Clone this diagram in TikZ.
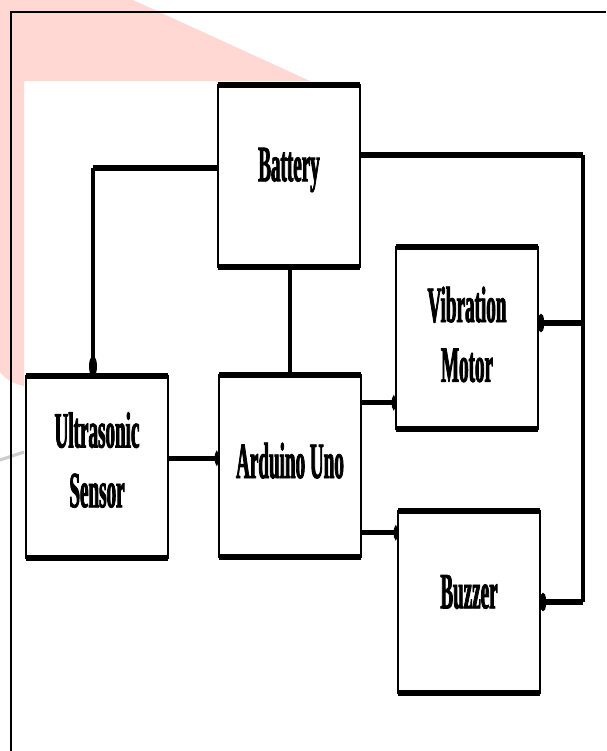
\documentclass[tikz,border=0pt]{standalone}
\usepackage{fontspec}
\newfontfamily\blockfont{Liberation Serif}[FakeStretch=0.375, BoldFeatures={FakeBold=1.5}]
\usetikzlibrary{arrows.meta}
\definecolor{wmpink}{RGB}{255,216,211}
\definecolor{wmgray}{RGB}{205,205,205}

\begin{document}
\begin{tikzpicture}[x=0.02cm, y=-0.02cm,
    block/.style={draw, line width=1.5pt, outer sep=0pt, inner sep=0pt,
        minimum width=2.84cm, minimum height=3.64cm},
    tag/.style={align=center, inner sep=0pt, yshift=#1,
        font=\blockfont\bfseries\fontsize{29}{34}\selectfont},
    edge/.style={line width=3.5pt},
    bus/.style={line width=3.8pt},
    riser/.style={line width=2.4pt},
    sig/.style={line width=2.8pt},
    wire/.style={line width=1.8pt},
    tipV/.style={-{Circle[length=11pt,width=4.5pt]}},
    tipR/.style={-{Circle[length=3.5pt,width=10pt]}},
    tipS/.style={-{Circle[length=2.5pt,width=7.5pt]}}]
    \useasboundingbox (0,0) rectangle (606,751);

    % watermark behind the page
    \fill[wmpink] (0,0) -- (133,0) -- (310,81) -- (24,81) -- (24,386)
        .. controls (14,384) and (5,379) .. (0,372) -- cycle;
    \draw[wmgray, line width=1.8pt] (0,460) -- (24,452);
    \draw[line width=1.1pt] (11,751) -- (11,12) -- (606,12);

    % blocks
    \node[block, label={[tag=3.4pt]center:Battery}] (bat) at (289,176) {};
    \node[block, label={[tag=4pt]center:Ultrasonic\\Sensor}] (us) at (97,467) {};
    \node[block, label={[tag=3pt]center:Arduino Uno}] (ard) at (290,466) {};
    \node[block, label={[tag=2pt]center:Vibration\\Motor}] (vm) at (467,338) {};
    \node[block, label={[tag=5.7pt]center:Buzzer}] (bz) at (469,602) {};
    \foreach \b in {bat,us,ard,vm,bz} {
        \draw[edge] (\b.north west) -- (\b.north east);
        \draw[edge] (\b.south west) -- (\b.south east);
    }

    % supply lines
    \coordinate (k1) at (93,168);
    \draw[bus] (bat.west |- k1) -- (k1);
    \draw[wire, tipV] (k1) -- (k1 |- us.north);
    \draw[wire] (ard.north |- bat.south) -- (ard.north);
    \coordinate (k2) at (583,155);
    \coordinate (k3) at (583,323);
    \draw[bus] (bat.east |- k2) -- (k2);
    \draw[riser] (k2) -- (k2 |- bz.east);
    \draw[bus, tipR] (k3) -- (vm.east |- k3);
    \draw[bus, tipR] (k2 |- bz.east) -- (bz.east);

    % signal lines
    \draw[sig, tipS] ([yshift=5pt]us.east) -- ([yshift=5pt]us.east -| ard.west);
    \draw[sig, tipS] ([yshift=36pt]ard.east) -- ([yshift=36pt]ard.east -| vm.west);
    \draw[sig, tipS] ([yshift=-38pt]ard.east) -- ([yshift=-38pt]ard.east -| bz.west);
\end{tikzpicture}
\end{document}
